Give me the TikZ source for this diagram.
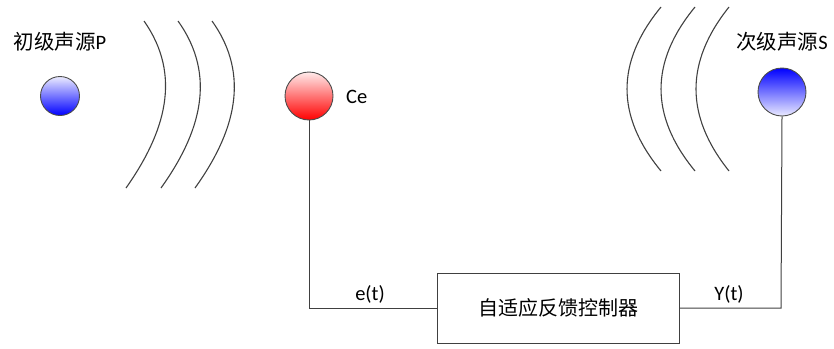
\documentclass[tikz,border=0pt]{standalone}
\usepackage{fontspec}
\setmainfont{Carlito}
\newfontfamily\cjk{Noto Sans CJK SC}
\begin{document}
\begin{tikzpicture}[x=1pt,y=-1pt,
  wave/.style={draw=black!75,line width=1.1pt},
  ball/.style={circle,draw=black!70,line width=0.9pt,inner sep=0pt},
  wire/.style={draw=black!75,line width=1pt},
  lbl/.style={font=\fontsize{20.5}{24}\selectfont,inner sep=0pt}]
\useasboundingbox (0,0) rectangle (834,348);
% sources
\node[ball,minimum size=39pt,top color=blue!8,bottom color=blue] (P) at (60,96) {};
\node[ball,minimum size=48pt,top color=red!8,bottom color=red] (Ce) at (309,96) {};
\node[ball,minimum size=48pt,top color=blue,bottom color=blue!8] (S) at (782,92) {};
% labels
\node[lbl] (Pl) at (60,42) {{\cjk 初级声源}P};
\node[lbl] (Sl) at (782,42) {{\cjk 次级声源}S};
\node[lbl,anchor=west] (Cel) at (346,97) {Ce};
% waves left
\draw[wave] (144,21) .. controls (182.7,76) and (164.7,133) .. (126,188);
\draw[wave] (178,21) .. controls (217.3,76) and (200.3,133) .. (161,188);
\draw[wave] (212,21) .. controls (251.3,76) and (234.3,133) .. (195,188);
% waves right
\draw[wave] (661,7) .. controls (615.7,62) and (615.7,116) .. (661,171);
\draw[wave] (695,7) .. controls (649.7,62) and (649.7,116) .. (695,171);
\draw[wave] (729,7) .. controls (685,62) and (685,116) .. (729,171);
% controller
\node[draw=black!75,line width=1pt,minimum width=242pt,minimum height=70pt,inner sep=0pt,font=\cjk\fontsize{20}{24}\selectfont] (C) at (558.5,308) {自适应反馈控制器};
\coordinate (cl) at (309,308);
\coordinate (cr) at (781,308);
\draw[wire] (Ce.south) -- (cl) -- (C.west);
\draw[wire] (C.east) -- (cr) -- (S.south);
\node[lbl] (et) at (370,294) {e(t)};
\node[lbl] (Yt) at (729,294) {Y(t)};
\end{tikzpicture}
\end{document}
